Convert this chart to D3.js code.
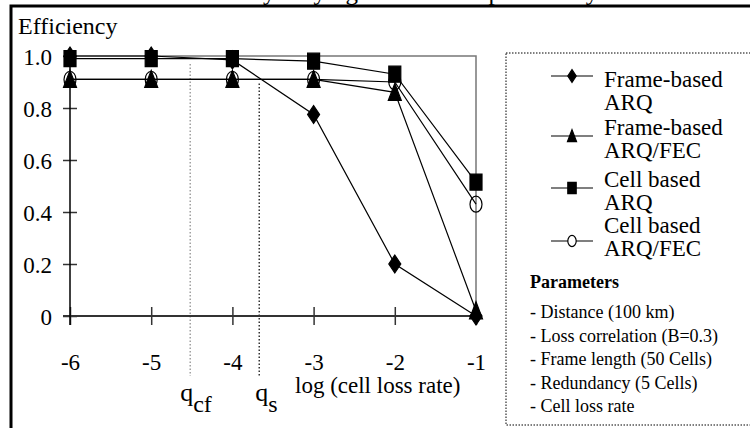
<!DOCTYPE html>
<html>
<head>
<meta charset="utf-8">
<script src="https://cdn.jsdelivr.net/npm/d3@7"></script>
<style>
  body { margin: 0; background: #fff; }
  svg { display: block; }
  svg text { font-family: "Liberation Serif", "Times New Roman", Times, "DejaVu Serif", serif; }
</style>
</head>
<body>
<div id="chart"></div>
<script>
// x values are log10(cell loss rate)
var logRates = [-6, -5, -4, -3, -2, -1];
var yTicks = [0, 0.2, 0.4, 0.6, 0.8, 1.0];

var frameArq    = [1.0, 1.0, 0.985, 0.775, 0.2, 0.0];
var frameArqFec = [0.91, 0.91, 0.91, 0.91, 0.86, 0.02];
var cellArq     = [0.99, 0.99, 0.99, 0.98, 0.93, 0.515];
var cellArqFec  = [0.91, 0.91, 0.91, 0.91, 0.90, 0.43];

var seriesNames = [["Frame-based", "ARQ"], ["Frame-based", "ARQ/FEC"], ["Cell based", "ARQ"], ["Cell based", "ARQ/FEC"]];
var seriesMarkers = ["diamond", "triangle", "square", "circle"];
var seriesValues = [frameArq, frameArqFec, cellArq, cellArqFec];

var thresholds = [{ name: "q", sub: "cf", x: -4.52, top: 0.985 }, { name: "q", sub: "s", x: -3.67, top: 0.91 }];

var parameters = ["- Distance (100 km)", "- Loss correlation (B=0.3)", "- Frame length (50 Cells)",
  "- Redundancy (5 Cells)", "- Cell loss rate"];

var width = 750, height = 428;

var svg = d3.select("#chart").append("svg")
  .attr("width", width)
  .attr("height", height);

// title of the page above, mostly cut off by the frame
svg.append("text")
  .attr("x", 385).attr("y", 0)
  .attr("text-anchor", "middle")
  .attr("font-size", 25)
  .text("Efficiency varying the cell loss probability");

// outer frame
svg.append("rect")
  .attr("x", 11).attr("y", 6)
  .attr("width", 900).attr("height", 600)
  .attr("fill", "none").attr("stroke", "#000").attr("stroke-width", 3);

var x = d3.scaleLinear().domain([-6, -1]).range([70, 476]);
var y = d3.scaleLinear().domain([0, 1]).range([316, 56]);

// plot frame top / right
svg.append("path")
  .attr("d", "M" + x(-6) + "," + y(1) + "H" + x(-1) + "V" + y(0))
  .attr("fill", "none").attr("stroke", "#777").attr("stroke-width", 1.5);

// threshold lines
thresholds.forEach(function(t, i) {
  svg.append("line")
    .attr("x1", x(t.x)).attr("x2", x(t.x))
    .attr("y1", y(t.top) + 4).attr("y2", 376)
    .attr("stroke", i == 0 ? "#888" : "#000")
    .attr("stroke-width", 1.2)
    .attr("stroke-dasharray", "1.5,2");
  var lab = svg.append("text")
    .attr("x", x(t.x) - (i == 0 ? 10 : 4)).attr("y", 401)
    .attr("font-size", 26);
  lab.append("tspan").text(t.name);
  lab.append("tspan").attr("dy", 11).attr("font-size", 24).text(t.sub);
});

// axes
var xAxis = d3.axisBottom(x).tickValues(logRates).tickSize(0).tickPadding(0)
  .tickFormat(function(d) { return String(d); });
var yAxis = d3.axisLeft(y).tickValues(yTicks).tickSize(0).tickPadding(18)
  .tickFormat(function(d) { return d == 0 ? "0" : d.toFixed(1); });

var gx = svg.append("g").attr("transform", "translate(0," + y(0) + ")").call(xAxis);
gx.attr("font-family", null);
gx.select(".domain").remove();
gx.selectAll(".tick line").attr("y1", -9).attr("y2", 9).attr("stroke", "#333").attr("stroke-width", 1.5);
gx.selectAll("text").attr("font-size", 23).attr("fill", "#000").attr("y", 54).attr("dy", null);

var gy = svg.append("g").attr("transform", "translate(" + x(-6) + ",0)").call(yAxis);
gy.attr("font-family", null);
gy.select(".domain").remove();
gy.selectAll(".tick line").attr("x1", -7).attr("x2", 7).attr("stroke", "#333").attr("stroke-width", 1.5);
gy.selectAll("text").attr("font-size", 23).attr("fill", "#000").attr("dy", "0.35em");

svg.append("line")
  .attr("x1", x(-6) - 7).attr("x2", x(-1))
  .attr("y1", y(0)).attr("y2", y(0))
  .attr("stroke", "#333").attr("stroke-width", 2);
svg.append("line")
  .attr("x1", x(-6)).attr("x2", x(-6))
  .attr("y1", y(1)).attr("y2", y(0) + 9)
  .attr("stroke", "#000").attr("stroke-width", 1.5);

svg.append("text")
  .attr("x", 18).attr("y", 34)
  .attr("font-size", 24)
  .text("Efficiency");

svg.append("text")
  .attr("x", 295).attr("y", 393)
  .attr("font-size", 23)
  .text("log (cell loss rate)");

// markers
function markerPath(type, s) {
  if (type == "diamond") return "M0," + (-9 * s) + "L" + (6 * s) + ",0L0," + (9 * s) + "L" + (-6 * s) + ",0Z";
  if (type == "triangle") return "M0," + (-9 * s) + "L" + (6.5 * s) + "," + (8 * s) + "L" + (-6.5 * s) + "," + (8 * s) + "Z";
  if (type == "square") return "M" + (-6 * s) + "," + (-8 * s) + "H" + (6 * s) + "V" + (8 * s) + "H" + (-6 * s) + "Z";
  var rx = 6 * s, ry = 8 * s;
  return "M" + (-rx) + ",0A" + rx + "," + ry + " 0 1,0 " + rx + ",0A" + rx + "," + ry + " 0 1,0 " + (-rx) + ",0Z";
}

var line = d3.line()
  .x(function(d, i) { return x(logRates[i]); })
  .y(function(d) { return y(d); });

seriesValues.forEach(function(vals) {
  svg.append("path")
    .attr("d", line(vals))
    .attr("fill", "none").attr("stroke", "#000").attr("stroke-width", 1.2);
});

// draw filled markers first, open circles last
[3, 1, 2, 0].forEach(function(k) {
  var type = seriesMarkers[k];
  svg.selectAll(".m" + k).data(seriesValues[k]).enter().append("path")
    .attr("class", "m" + k)
    .attr("transform", function(d, i) { return "translate(" + x(logRates[i]) + "," + y(d) + ")"; })
    .attr("d", markerPath(type, 1))
    .attr("fill", type == "circle" ? "none" : "#000")
    .attr("stroke", "#000").attr("stroke-width", 1.2);
});

// legend box
svg.append("rect")
  .attr("x", 506).attr("y", 53)
  .attr("width", 400).attr("height", 372)
  .attr("fill", "none").attr("stroke", "#000")
  .attr("stroke-width", 1).attr("stroke-dasharray", "1.5,1.5");

var legendTextY = [87, 135, 187, 233];
var legendMarkY = [76, 136, 188, 241];

seriesNames.forEach(function(name, i) {
  svg.append("line")
    .attr("x1", 551).attr("x2", 593)
    .attr("y1", legendMarkY[i]).attr("y2", legendMarkY[i])
    .attr("stroke", "#000").attr("stroke-width", 1.2);
  svg.append("path")
    .attr("transform", "translate(572," + legendMarkY[i] + ")")
    .attr("d", markerPath(seriesMarkers[i], 0.7))
    .attr("fill", seriesMarkers[i] == "circle" ? "#fff" : "#000")
    .attr("stroke", "#000").attr("stroke-width", 1.2);
  var t = svg.append("text").attr("x", 604).attr("y", legendTextY[i]).attr("font-size", 23);
  t.append("tspan").text(name[0]);
  t.append("tspan").attr("x", 604).attr("dy", 22.5).text(name[1]);
});

svg.append("text")
  .attr("x", 530).attr("y", 288)
  .attr("font-size", 18).attr("font-weight", "bold")
  .text("Parameters");

svg.selectAll(".param").data(parameters).enter().append("text")
  .attr("class", "param")
  .attr("x", 530)
  .attr("y", function(d, i) { return 318 + i * 23.5; })
  .attr("font-size", 18)
  .text(function(d) { return d; });
</script>
</body>
</html>
